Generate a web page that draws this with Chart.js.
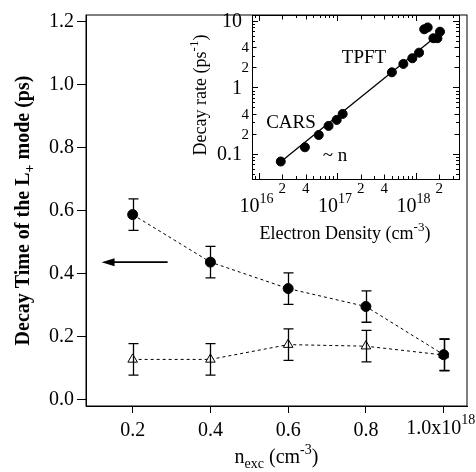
<!DOCTYPE html>
<html>
<head>
<meta charset="utf-8">
<script src="https://cdn.jsdelivr.net/npm/chart.js@4.4.0/dist/chart.umd.min.js"></script>
<style>
  body { margin: 0; background: #fff; }
  #wrap { position: relative; width: 476px; height: 472px; }
  #mainChart { position: absolute; left: 0; top: 0; }
  #insetChart { position: absolute; left: 190px; top: 0; }
</style>
</head>
<body>
<div id="wrap">
  <canvas id="mainChart" width="476" height="472"></canvas>
  <canvas id="insetChart" width="280" height="250"></canvas>
</div>
<script>
// main panel data
const nExc = [0.2, 0.4, 0.6, 0.8, 1.0];
const tauCircle = [0.588, 0.437, 0.353, 0.296, 0.143];
const errCircle = [0.05, 0.05, 0.05, 0.05, 0.05];
const tauTriangle = [0.128, 0.128, 0.175, 0.170, 0.142];
const errTriangle = [0.05, 0.05, 0.05, 0.05, 0.05];
const xTicks = [0.2, 0.4, 0.6, 0.8, 1.0];
const yTicks = [0.0, 0.2, 0.4, 0.6, 0.8, 1.0, 1.2];
const arrowX = [0.29, 0.12];
const arrowY = 0.437;

// inset data
const density = [1.92e16, 3.9e16, 5.85e16, 7.8e16, 9.9e16, 1.18e17, 5.0e17, 7.0e17, 9.1e17, 1.11e18, 1.29e18, 1.43e18, 1.69e18, 1.9e18, 2.05e18];
const decayRate = [0.077, 0.126, 0.193, 0.264, 0.325, 0.40, 1.69, 2.26, 2.75, 3.34, 7.5, 8.0, 5.5, 5.5, 6.9];
const fitDensity = [1.92e16, 1.62e18];
const fitRate = [0.0766, 5.2];
const insetXSmall = [2e16, 4e16, 2e17, 4e17, 2e18];
const insetXDecades = [16, 17, 18];
const insetYValues = [10, 4, 2, 1, 0.4, 0.2, 0.1];
const insetYLabels = ['10', '4', '2', '1', '4', '2', '0.1'];

const FONT = "'Liberation Serif', 'Times New Roman', serif";

// draw a row of text pieces (sub/superscripts) starting from a centre or edge
function drawRuns(ctx, runs, x, y, align, baseline) {
  ctx.textAlign = 'left';
  ctx.textBaseline = baseline || 'alphabetic';
  let w = 0;
  runs.forEach(r => {
    ctx.font = (r.bold ? 'bold ' : '') + r.size + 'px ' + FONT;
    r.w = ctx.measureText(r.t).width;
    w += r.w;
  });
  let cx = align === 'center' ? x - w / 2 : align === 'right' ? x - w : x;
  runs.forEach(r => {
    ctx.font = (r.bold ? 'bold ' : '') + r.size + 'px ' + FONT;
    ctx.fillText(r.t, cx, y + (r.dy || 0));
    cx += r.w;
  });
}

const mainDeco = {
  id: 'mainDeco',
  afterDatasetsDraw(chart) {
    const { ctx, chartArea: a, scales: { x, y } } = chart;
    ctx.save();
    ctx.strokeStyle = '#000';
    ctx.fillStyle = '#000';
    ctx.lineWidth = 1;
    ctx.strokeRect(a.left, a.top, a.right - a.left, a.bottom - a.top);

    // error bars
    const bars = (vals, errs) => {
      vals.forEach((v, i) => {
        const px = Math.round(x.getPixelForValue(nExc[i])) + 0.5;
        const top = y.getPixelForValue(v + errs[i]);
        const bot = y.getPixelForValue(v - errs[i]);
        ctx.beginPath();
        ctx.moveTo(px, top); ctx.lineTo(px, bot);
        ctx.moveTo(px - 5, top); ctx.lineTo(px + 5, top);
        ctx.moveTo(px - 5, bot); ctx.lineTo(px + 5, bot);
        ctx.stroke();
      });
    };
    ctx.lineWidth = 1.3;
    bars(tauCircle, errCircle);
    bars(tauTriangle, errTriangle);

    // arrow pointing at left axis
    const ax0 = x.getPixelForValue(arrowX[0]);
    const ax1 = x.getPixelForValue(arrowX[1]);
    const ay = y.getPixelForValue(arrowY);
    ctx.lineWidth = 1.6;
    ctx.beginPath();
    ctx.moveTo(ax0, ay); ctx.lineTo(ax1 + 10, ay);
    ctx.stroke();
    ctx.beginPath();
    ctx.moveTo(ax1, ay); ctx.lineTo(ax1 + 13, ay - 4); ctx.lineTo(ax1 + 13, ay + 4);
    ctx.closePath();
    ctx.fill();

    // last x tick label with exponent
    const lx = x.getPixelForValue(1.0);
    drawRuns(ctx, [
      { t: '1.0x10', size: 20 },
      { t: '18', size: 14, dy: -6 }
    ], lx - 3, a.bottom + 13, 'center', 'top');

    // x title
    drawRuns(ctx, [
      { t: 'n', size: 20 },
      { t: 'exc', size: 14, dy: 5 },
      { t: ' (cm', size: 20 },
      { t: '-3', size: 14, dy: -9 },
      { t: ')', size: 20 }
    ], (a.left + a.right) / 2, 463, 'center');

    // y title, rotated
    ctx.translate(22, (a.top + a.bottom) / 2);
    ctx.rotate(-Math.PI / 2);
    drawRuns(ctx, [
      { t: 'Decay Time of the L', size: 20, bold: true },
      { t: '+', size: 14, bold: true, dy: 5 },
      { t: ' mode (ps)', size: 20, bold: true }
    ], 0, 7, 'center');
    ctx.restore();
  }
};

new Chart(document.getElementById('mainChart'), {
  type: 'scatter',
  data: {
    datasets: [{
      data: nExc.map((v, i) => ({ x: v, y: tauCircle[i] })),
      showLine: true,
      borderColor: '#000',
      borderWidth: 1,
      borderDash: [3, 3],
      pointRadius: 5,
      pointBackgroundColor: '#000',
      pointBorderColor: '#000'
    }, {
      data: nExc.map((v, i) => ({ x: v, y: tauTriangle[i] })),
      showLine: true,
      borderColor: '#000',
      borderWidth: 1,
      borderDash: [3, 3],
      pointStyle: 'triangle',
      pointRadius: 5.5,
      pointBackgroundColor: '#fff',
      pointBorderColor: '#000',
      pointBorderWidth: 1
    }]
  },
  options: {
    responsive: false,
    animation: false,
    layout: { padding: { left: 0, top: 7, right: 9, bottom: 0 }, autoPadding: false },
    plugins: { legend: { display: false }, tooltip: { enabled: false } },
    scales: {
      x: {
        type: 'linear',
        min: 0.08,
        max: 1.06,
        afterBuildTicks: s => { s.ticks = xTicks.map(v => ({ value: v })); },
        afterFit: s => { s.height = 66; },
        ticks: {
          color: '#000',
          padding: 6,
          maxRotation: 0,
          font: { family: FONT, size: 20 },
          callback: v => (v === 1 ? '' : v.toFixed(1))
        },
        grid: { drawOnChartArea: false, tickLength: 7, color: '#000', lineWidth: 1 },
        border: { display: true, color: '#000' }
      },
      y: {
        min: -0.02,
        max: 1.222,
        afterBuildTicks: s => { s.ticks = yTicks.map(v => ({ value: v })); },
        afterFit: s => { s.width = 86; },
        ticks: {
          color: '#000',
          padding: 3,
          font: { family: FONT, size: 20 },
          callback: v => v.toFixed(1)
        },
        grid: { drawOnChartArea: false, tickLength: 9, color: '#000', lineWidth: 1 },
        border: { display: true, color: '#000' }
      }
    }
  },
  plugins: [mainDeco]
});

const insetDeco = {
  id: 'insetDeco',
  afterDraw(chart) {
    const { ctx, chartArea: a, scales: { x, y } } = chart;
    ctx.save();
    ctx.strokeStyle = '#000';
    ctx.fillStyle = '#000';
    ctx.lineWidth = 1;
    ctx.strokeRect(a.left + 0.5, a.top + 0.5, a.right - a.left, a.bottom - a.top);

    // tick marks pointing inwards on all four sides
    ctx.beginPath();
    for (let d = 15; d <= 18; d++) {
      for (let m = 1; m <= 9; m++) {
        const v = m * Math.pow(10, d);
        if (v < x.min || v > x.max) continue;
        const px = Math.round(x.getPixelForValue(v)) + 0.5;
        const len = m === 1 ? 6 : (m === 2 || m === 4) ? 4.5 : 3;
        ctx.moveTo(px, a.bottom); ctx.lineTo(px, a.bottom - len);
        ctx.moveTo(px, a.top); ctx.lineTo(px, a.top + len);
      }
    }
    for (let d = -2; d <= 1; d++) {
      for (let m = 1; m <= 9; m++) {
        const v = m * Math.pow(10, d);
        if (v < y.min || v > y.max) continue;
        const py = Math.round(y.getPixelForValue(v)) + 0.5;
        const len = m === 1 ? 6 : (m === 2 || m === 4) ? 4.5 : 3;
        ctx.moveTo(a.left, py); ctx.lineTo(a.left + len, py);
        ctx.moveTo(a.right, py); ctx.lineTo(a.right - len, py);
      }
    }
    ctx.stroke();

    // y labels
    insetYValues.forEach((v, i) => {
      const big = insetYLabels[i].length > 1 || v === 1;
      ctx.font = (big ? 20 : 15) + 'px ' + FONT;
      ctx.textAlign = 'right';
      ctx.textBaseline = 'middle';
      ctx.fillText(insetYLabels[i], big ? a.left - 10 : a.left - 3, y.getPixelForValue(v) + 1);
    });

    // x labels: small multipliers and decades
    ctx.font = '15px ' + FONT;
    ctx.textAlign = 'center';
    ctx.textBaseline = 'middle';
    insetXSmall.forEach(v => {
      ctx.fillText(String(Math.round(v / Math.pow(10, Math.floor(Math.log10(v))))), x.getPixelForValue(v), a.bottom + 10);
    });
    insetXDecades.forEach(d => {
      const px = x.getPixelForValue(Math.pow(10, d));
      drawRuns(ctx, [{ t: '10', size: 20 }], px + 1, 212, 'right');
      drawRuns(ctx, [{ t: String(d), size: 14 }], px + 1, 203, 'left');
    });

    // x title
    drawRuns(ctx, [
      { t: 'Electron Density (cm', size: 18 },
      { t: '-3', size: 13, dy: -8 },
      { t: ')', size: 18 }
    ], 345 - 190, 239, 'center');

    // y title, rotated
    ctx.save();
    ctx.translate(200 - 190, (a.top + a.bottom) / 2 - 2);
    ctx.rotate(-Math.PI / 2);
    drawRuns(ctx, [
      { t: 'Decay rate (ps', size: 18 },
      { t: '-1', size: 13, dy: -8 },
      { t: ')', size: 18 }
    ], 0, 6, 'center');
    ctx.restore();

    // annotations
    ctx.font = '19px ' + FONT;
    ctx.textAlign = 'center';
    ctx.textBaseline = 'middle';
    ctx.fillText('CARS', 291 - 190, 123);
    ctx.fillText('TPFT', 364 - 190, 58);
    ctx.fillText('~ n', 335 - 190, 156);
    ctx.restore();
  }
};

new Chart(document.getElementById('insetChart'), {
  type: 'scatter',
  data: {
    datasets: [{
      data: fitDensity.map((v, i) => ({ x: v, y: fitRate[i] })),
      showLine: true,
      borderColor: '#000',
      borderWidth: 1.3,
      pointRadius: 0
    }, {
      data: density.map((v, i) => ({ x: v, y: decayRate[i] })),
      showLine: false,
      pointRadius: 4.5,
      pointBackgroundColor: '#000',
      pointBorderColor: '#000'
    }]
  },
  options: {
    responsive: false,
    animation: false,
    layout: { padding: { left: 62, top: 15, right: 11, bottom: 71 }, autoPadding: false },
    plugins: { legend: { display: false }, tooltip: { enabled: false } },
    scales: {
      x: { type: 'logarithmic', min: 8.26e15, max: 3.58e18, display: false },
      y: { type: 'logarithmic', min: 0.042, max: 12.3, display: false }
    }
  },
  plugins: [insetDeco]
});
</script>
</body>
</html>
